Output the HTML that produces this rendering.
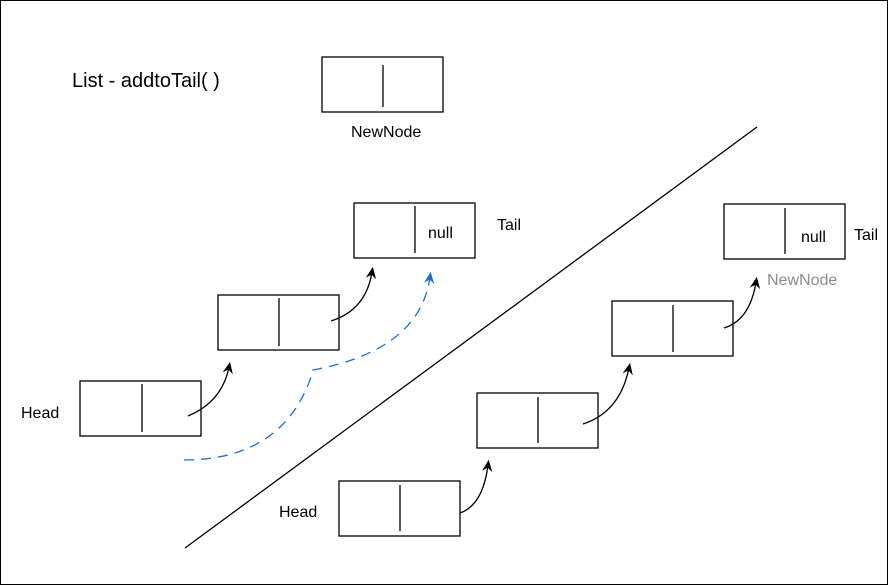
<!DOCTYPE html>
<html><head><style>
body{margin:0;background:#fff}
svg{display:block}
text{font-family:"Liberation Sans",sans-serif;fill:#000}
</style></head><body>
<svg width="888" height="585" viewBox="0 0 888 585">
<defs>
<marker id="a" markerWidth="10" markerHeight="10" refX="5" refY="5" orient="auto"><path d="M0,1 L9,5 L0,9 L3,5z" fill="#000"/></marker>
<marker id="b" markerWidth="10" markerHeight="10" refX="5" refY="5" orient="auto"><path d="M0,1 L9,5 L0,9 L3,5z" fill="#1a6fd6"/></marker>
</defs>
<rect x="0.5" y="0.5" width="887" height="584" fill="#fff" stroke="#000"/>
<text x="72" y="87" font-size="20">List - addtoTail( )</text>
<g fill="none" stroke="#000" stroke-width="1.3">
<rect x="322" y="57" width="121" height="55"/><line x1="383" y1="65" x2="383" y2="107"/>
<rect x="354" y="203" width="121" height="55"/><line x1="415" y1="206" x2="415" y2="253"/>
<rect x="218" y="295" width="121" height="55"/><line x1="279" y1="298" x2="279" y2="346"/>
<rect x="80" y="381" width="121" height="55"/><line x1="142" y1="384" x2="142" y2="432"/>
<rect x="724" y="204" width="121" height="55"/><line x1="785" y1="208" x2="785" y2="254"/>
<rect x="612" y="301" width="121" height="55"/><line x1="673" y1="305" x2="673" y2="352"/>
<rect x="477" y="393" width="121" height="55"/><line x1="538" y1="397" x2="538" y2="443"/>
<rect x="339" y="481" width="121" height="55"/><line x1="400" y1="485" x2="400" y2="531"/>
<line x1="185" y1="548" x2="757" y2="127"/>
<path d="M188,416 Q222,402 229,367" marker-end="url(#a)"/>
<path d="M331,321 Q366,310 372,272" marker-end="url(#a)"/>
<path d="M460,513 Q483,505 488,465" marker-end="url(#a)"/>
<path d="M583,424 Q620,412 629,368" marker-end="url(#a)"/>
<path d="M724,328 Q750,320 756,282" marker-end="url(#a)"/>
<path d="M184,460 Q280,460 310,380 L313,370 Q420,350 430,277" stroke="#1a6fd6" stroke-dasharray="10,7" marker-end="url(#b)"/>
</g>
<text x="351" y="137" font-size="16">NewNode</text>
<text x="428" y="238" font-size="16">null</text>
<text x="497" y="230" font-size="16">Tail</text>
<text x="21" y="418" font-size="16">Head</text>
<text x="801" y="242" font-size="16">null</text>
<text x="854" y="240" font-size="16">Tail</text>
<text x="767" y="285" font-size="16" style="fill:#8c8c8c">NewNode</text>
<text x="279" y="517" font-size="16">Head</text>
</svg>
</body></html>
